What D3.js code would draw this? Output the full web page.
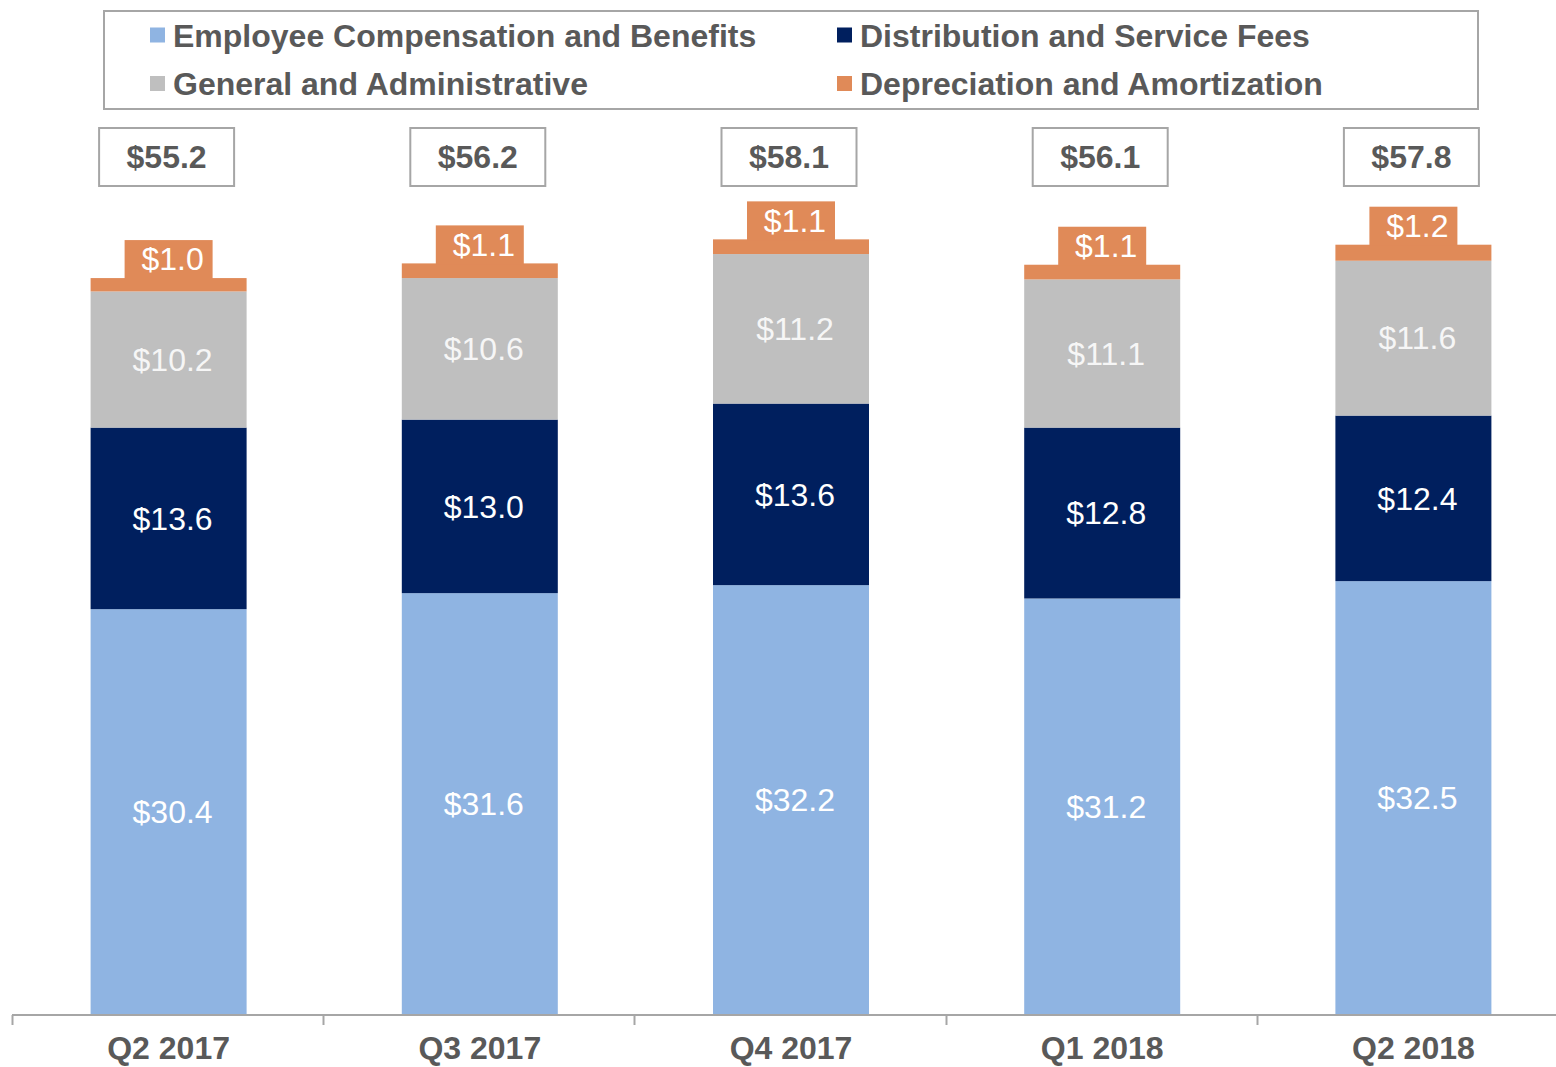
<!DOCTYPE html>
<html>
<head>
<meta charset="utf-8">
<script src="https://cdn.jsdelivr.net/npm/d3@7"></script>
<style>
  html, body { margin: 0; padding: 0; background: #fff; }
  svg { display: block; font-family: "Liberation Sans", Arial, sans-serif; }
</style>
</head>
<body>
<svg id="chart" width="1556" height="1067"></svg>
<script>
// Chart data
const quarters = ["Q2 2017", "Q3 2017", "Q4 2017", "Q1 2018", "Q2 2018"];
const seriesNames = [
  "Employee Compensation and Benefits",
  "Distribution and Service Fees",
  "General and Administrative",
  "Depreciation and Amortization"
];
const employeeComp = [30.4, 31.6, 32.2, 31.2, 32.5];
const distribution = [13.6, 13.0, 13.6, 12.8, 12.4];
const generalAdmin = [10.2, 10.6, 11.2, 11.1, 11.6];
const deprecAmort  = [1.0, 1.1, 1.1, 1.1, 1.2];
const totals       = [55.2, 56.2, 58.1, 56.1, 57.8];

const colors = ["#8FB4E2", "#001F5E", "#BFBFBF", "#E08A58"];
const labelColors = ["#ffffff", "#ffffff", "#F6F6F6", "#ffffff"];
const textGrey = "#595959";
const borderGrey = "#A6A6A6";

const width = 1556, height = 1067;
const baseY = 1015;
const fontSize = "32px";

const svg = d3.select("#chart");

// build rows for the stack
const keys = ["emp", "dist", "ga", "da"];
const table = quarters.map((q, i) => ({
  quarter: q,
  emp: employeeComp[i],
  dist: distribution[i],
  ga: generalAdmin[i],
  da: deprecAmort[i],
  total: totals[i]
}));

const stacked = d3.stack().keys(keys)(table);

const x = d3.scaleBand()
  .domain(quarters)
  .range([13, 1569]);

const y = d3.scaleLinear()
  .domain([0, 60])
  .range([baseY, baseY - 60 * 13.35]);

const barW = 156;
const mid = q => x(q) + x.bandwidth() / 2;

// Bars
const layers = svg.append("g")
  .selectAll("g")
  .data(stacked)
  .join("g")
    .attr("fill", (d, i) => colors[i]);

layers.selectAll("rect")
  .data(d => d)
  .join("rect")
    .attr("x", d => mid(d.data.quarter) - barW / 2)
    .attr("y", d => y(d[1]))
    .attr("width", barW)
    .attr("height", d => y(d[0]) - y(d[1]));

// Labels inside the first three segments
stacked.slice(0, 3).forEach((layer, li) => {
  svg.append("g")
    .selectAll("text")
    .data(layer)
    .join("text")
      .attr("x", d => mid(d.data.quarter) + 4)
      .attr("y", d => (y(d[0]) + y(d[1])) / 2)
      .attr("dy", "0.35em")
      .attr("text-anchor", "middle")
      .attr("fill", labelColors[li])
      .attr("font-size", fontSize)
      .text(d => "$" + (d[1] - d[0]).toFixed(1));
});

// Orange tab labels sitting on the D&A segment
const daLayer = stacked[3];
const tabW = 88, tabH = 38;
const tabs = svg.append("g")
  .selectAll("g")
  .data(daLayer)
  .join("g")
    .attr("transform", d => `translate(${mid(d.data.quarter)},${y(d[1])})`);

tabs.append("rect")
  .attr("x", -tabW / 2)
  .attr("y", -tabH)
  .attr("width", tabW)
  .attr("height", tabH + 1)
  .attr("fill", colors[3]);

tabs.append("text")
  .attr("x", 4)
  .attr("y", -tabH / 2)
  .attr("dy", "0.35em")
  .attr("text-anchor", "middle")
  .attr("fill", "#fff")
  .attr("font-size", fontSize)
  .text(d => "$" + d.data.da.toFixed(1));

// Total boxes
const totW = 135, totH = 58, totCY = 157;
const tot = svg.append("g")
  .selectAll("g")
  .data(table)
  .join("g")
    .attr("transform", d => `translate(${mid(d.quarter) - 2},${totCY})`);

tot.append("rect")
  .attr("x", -totW / 2)
  .attr("y", -totH / 2)
  .attr("width", totW)
  .attr("height", totH)
  .attr("fill", "#fff")
  .attr("stroke", borderGrey)
  .attr("stroke-width", 2);

tot.append("text")
  .attr("dy", "0.35em")
  .attr("text-anchor", "middle")
  .attr("fill", textGrey)
  .attr("font-size", fontSize)
  .attr("font-weight", "bold")
  .text(d => "$" + d.total.toFixed(1));

// X axis
const axis = svg.append("g")
  .attr("transform", `translate(0,${baseY})`)
  .call(d3.axisBottom(x).tickSize(0).tickPadding(0));

axis.select(".domain")
  .attr("stroke", borderGrey)
  .attr("stroke-width", 2)
  .attr("d", `M12,0H${width}`);

axis.selectAll(".tick text")
  .attr("y", 33)
  .attr("dy", "0.35em")
  .attr("fill", textGrey)
  .attr("font-size", fontSize)
  .attr("font-weight", "bold")
  .attr("font-family", "'Liberation Sans', Arial, sans-serif");

// tick marks at band edges
svg.append("g")
  .selectAll("line")
  .data(quarters)
  .join("line")
    .attr("x1", d => Math.round(x(d)) - 0.5)
    .attr("x2", d => Math.round(x(d)) - 0.5)
    .attr("y1", baseY)
    .attr("y2", baseY + 10)
    .attr("stroke", borderGrey)
    .attr("stroke-width", 2);

// Legend
svg.append("rect")
  .attr("x", 104)
  .attr("y", 11)
  .attr("width", 1374)
  .attr("height", 98)
  .attr("fill", "#fff")
  .attr("stroke", borderGrey)
  .attr("stroke-width", 2);

const legendCols = [150, 837];
const legendRows = [35.5, 84];
const legend = svg.append("g")
  .selectAll("g")
  .data(seriesNames)
  .join("g")
    .attr("transform", (d, i) => `translate(${legendCols[i % 2]},${legendRows[Math.floor(i / 2)]})`);

legend.append("rect")
  .attr("x", 0)
  .attr("y", -8)
  .attr("width", 15)
  .attr("height", 15)
  .attr("fill", (d, i) => colors[i]);

legend.append("text")
  .attr("x", 23)
  .attr("dy", "0.35em")
  .attr("fill", textGrey)
  .attr("font-size", fontSize)
  .attr("font-weight", "bold")
  .text(d => d);
</script>
</body>
</html>
